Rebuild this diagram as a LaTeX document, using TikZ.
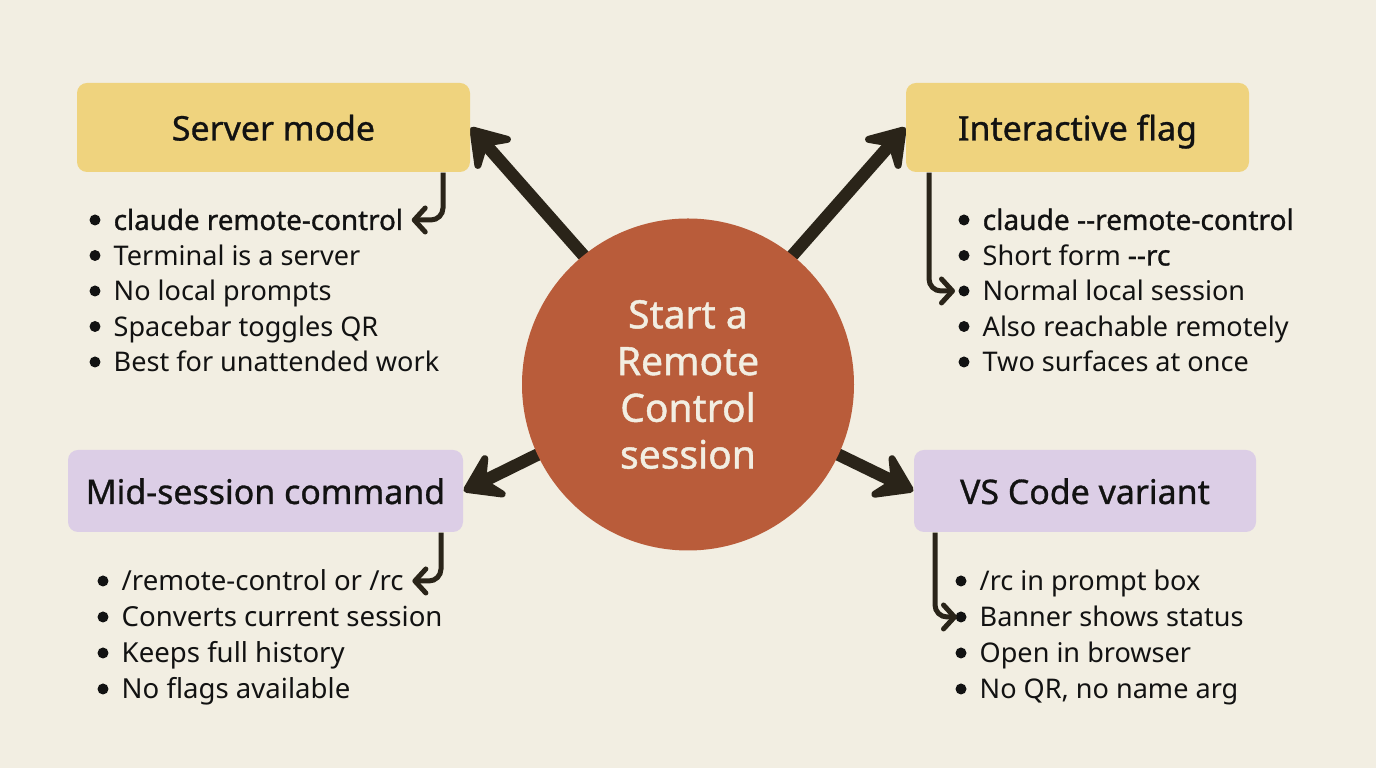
\documentclass[tikz,border=0pt]{standalone}
\usepackage{fontspec}
\usepackage{xcolor}
\setmainfont{Noto Sans}
\usetikzlibrary{arrows.meta,positioning,backgrounds}
\definecolor{paper}{HTML}{F2EEE2}
\definecolor{sand}{HTML}{EFD37E}
\definecolor{lilac}{HTML}{DCCEE6}
\definecolor{rust}{HTML}{B95C3A}
\definecolor{ink}{HTML}{2A2419}
% heavier text, filled and stroked
\newcommand{\heavy}[1]{\special{pdf:code 2 Tr 0.09 w}#1\special{pdf:code 0 Tr}}
\newcommand{\heavyhub}[1]{\special{pdf:code 2 Tr 0.12 w 0.949 0.933 0.886 RG}#1\special{pdf:code 0 Tr 0 0 0 RG}}

\begin{document}
\begin{tikzpicture}[
  font=\fontsize{7.7pt}{9pt}\selectfont,
  head/.style={rounded corners=0.1cm, inner sep=0pt, minimum height=0.89cm, text=black!93,
    text height=0.26cm, text depth=0pt, font=\fontsize{9.65pt}{11pt}\selectfont},
  hub/.style={circle, fill=rust, minimum size=3.32cm, inner sep=0pt, align=center, text=paper,
    font=\fontsize{11.1pt}{13.3pt}\selectfont},
  item/.style={anchor=base west, inner xsep=0.08cm, inner ysep=0pt, text height=0.2cm, text depth=0pt, text=black!93},
  wide/.style={item, font=\fontsize{7.85pt}{9pt}\selectfont},
  bolditem/.style={item, font=\fontsize{7.9pt}{9pt}\selectfont},
  arr/.style={-{Stealth[round, length=0.47cm, width=0.62cm, inset=0.19cm, line width=0.09cm]}, line width=0.125cm, ink},
  sub/.style={-{Straight Barb[round, length=0.11cm, width=0.24cm]}, line width=0.05cm, ink, rounded corners=0.12cm}
]
  \node[hub] (centre) at (6.88,3.835) {\heavyhub{Start a}\\\heavyhub{Remote}\\\heavyhub{Control}\\\heavyhub{session}};

  \node[head, fill=sand, minimum width=3.93cm] (server) at (2.735,6.405) {\heavy{Server mode}};
  \node[head, fill=sand, minimum width=3.43cm] (flag) at (10.775,6.405) {\heavy{Interactive flag}};
  \node[head, fill=lilac, minimum width=3.95cm, minimum height=0.82cm] (midcmd) at (2.655,2.77) {\heavy{Mid-session command}};
  \node[head, fill=lilac, minimum width=3.42cm, minimum height=0.82cm] (vscode) at (10.85,2.77) {\heavy{VS Code variant}};

  % bullet lists
  \node[bolditem] (s1) at (1.05,5.38) {\heavy{claude remote-control}};
  \foreach \i/\txt in {2/Terminal is a server,3/No local prompts,4/Spacebar toggles QR,5/Best for unattended work}
    \node[item] (s\i) at (1.05,{5.38-(\i-1)*0.355}) {\txt};
  \node[bolditem, font=\fontsize{8pt}{9pt}\selectfont] (f1) at (9.74,5.38) {\heavy{claude -{}-remote-control}};
  \node[item] (f2) at (9.74,5.025) {Short form \heavy{\fontsize{8pt}{9pt}\selectfont -{}-rc}};
  \foreach \i/\txt in {3/Normal local session,4/Also reachable remotely,5/Two surfaces at once}
    \node[item] (f\i) at (9.74,{5.38-(\i-1)*0.355}) {\txt};
  \foreach \i/\txt in {1/{/remote-control or /rc},2/Converts current session,3/Keeps full history,4/No flags available}
    \node[wide] (m\i) at (1.13,{1.77-(\i-1)*0.36}) {\txt};
  \foreach \i/\txt in {1/{/rc in prompt box},2/Banner shows status,3/Open in browser,4/{No QR, no name arg}}
    \node[item] (v\i) at (9.71,{1.77-(\i-1)*0.36}) {\txt};

  % bullets
  \foreach \n in {s1,s2,s3,s4,s5,f1,f2,f3,f4,f5,m1,m2,m3,m4,v1,v2,v3,v4}
    \fill[black!93] ([xshift=-0.1cm]\n.west) circle (0.055cm);

  \draw[sub] ([xshift=1.695cm]server.south) |- (s1.east);
  \draw[sub] ([xshift=-1.485cm]flag.south) |- ([xshift=-0.19cm]f3.west);
  \draw[sub] ([xshift=1.755cm]midcmd.south) |- (m1.east);
  \draw[sub] ([xshift=-1.5cm]vscode.south) |- ([xshift=-0.14cm]v2.west);

  \begin{scope}[on background layer]
    \fill[paper] (0,0) rectangle (13.76,7.68);
    \draw[arr, shorten <=-0.1cm] (centre.129) -- (server.east);
    \draw[arr, shorten <=-0.1cm] (centre.51) -- (flag.west);
    \draw[arr, shorten <=-0.1cm] (centre.205) -- (midcmd.east);
    \draw[arr, shorten <=-0.1cm] (centre.-25) -- (vscode.west);
  \end{scope}
  \useasboundingbox (0,0) rectangle (13.76,7.68);
\end{tikzpicture}
\end{document}
